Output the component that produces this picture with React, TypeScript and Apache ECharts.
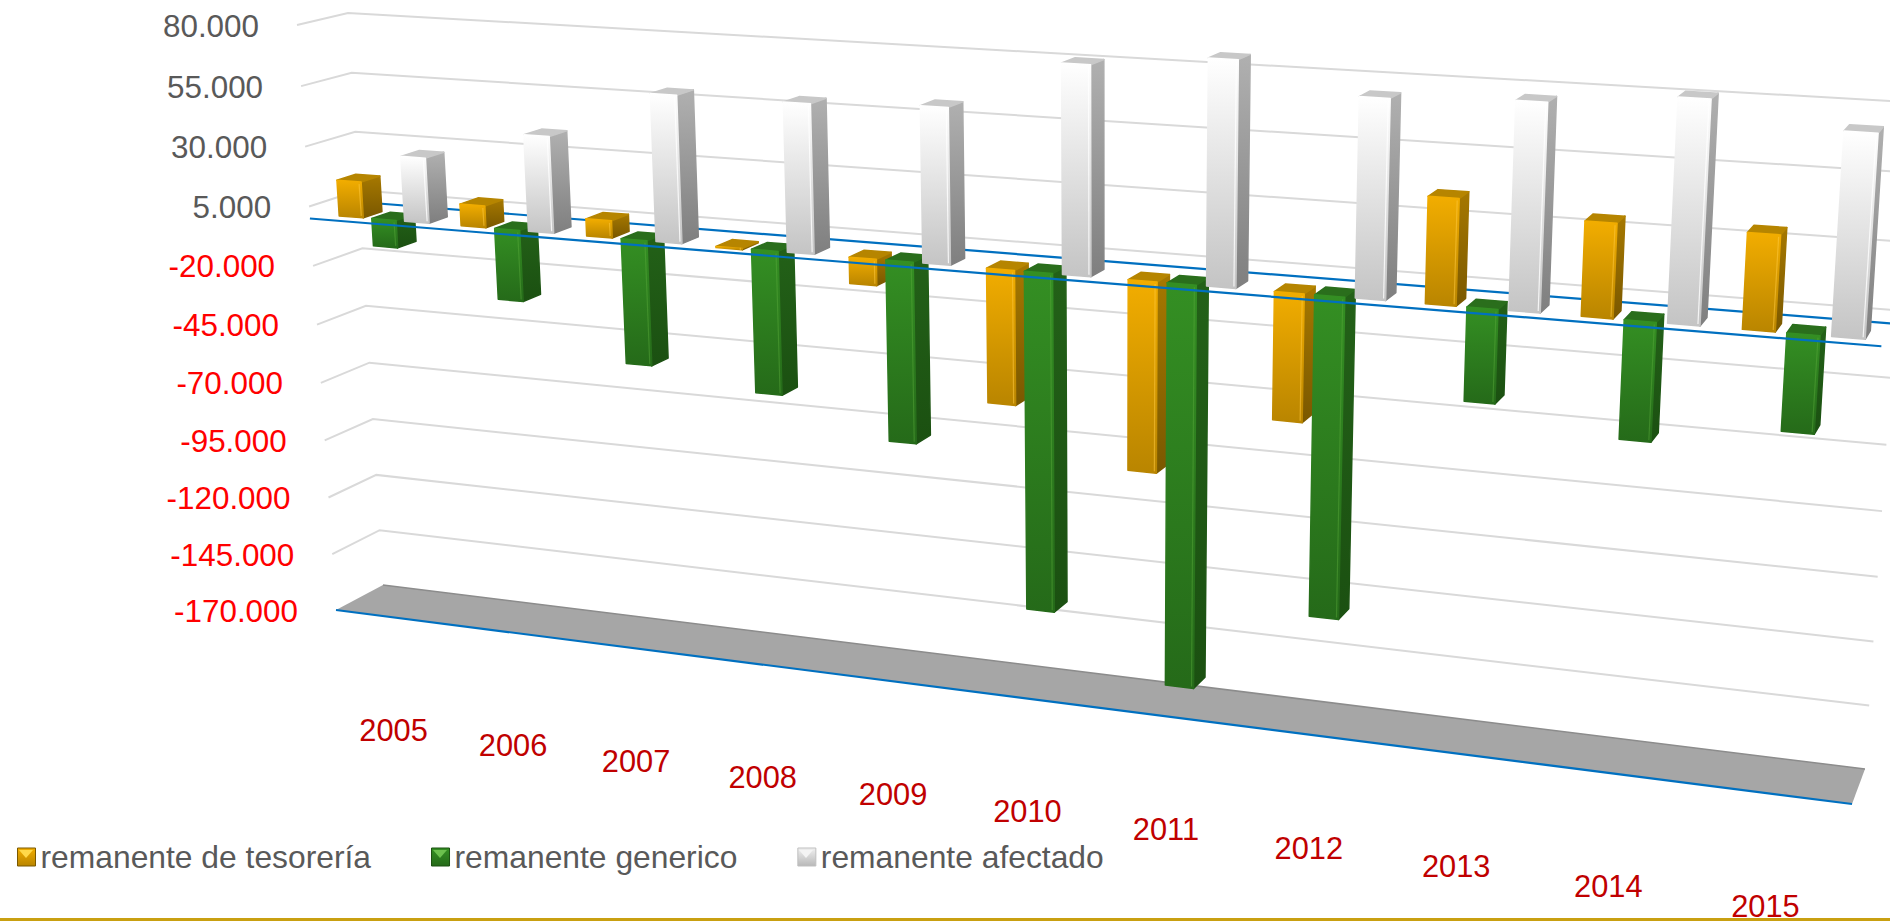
import React, { useEffect, useRef } from "react";
import * as echarts from "echarts";

const categories = ["2005", "2006", "2007", "2008", "2009", "2010", "2011", "2012", "2013", "2014", "2015"];
const tesoreria = [15000, 9000, 7000, -500, -10500, -53500, -75000, -49500, 40000, 35000, 35000];
const generico = [-11500, -29500, -51500, -58500, -73000, -136000, -160500, -125500, -35500, -44500, -36000];
const afectado = [27000, 39500, 59500, 59500, 61500, 81000, 86000, 75000, 77000, 81500, 73000];
const tickValues = [80000, 55000, 30000, 5000, -20000, -45000, -70000, -95000, -120000, -145000, -170000];
const seriesNames = ["remanente de tesorería", "remanente generico", "remanente afectado"];

type P = [number, number];
const FONT = '"Liberation Sans", Arial, sans-serif';
const FS = 31.4;

function quad(p00: P, p10: P, p11: P, p01: P) {
  const [x0, y0] = p00, [x1, y1] = p10, [x2, y2] = p11, [x3, y3] = p01;
  const dx1 = x1 - x2, dx2 = x3 - x2, sx = x0 - x1 + x2 - x3;
  const dy1 = y1 - y2, dy2 = y3 - y2, sy = y0 - y1 + y2 - y3;
  const den = dx1 * dy2 - dx2 * dy1;
  const g = (sx * dy2 - dx2 * sy) / den, h = (dx1 * sy - sx * dy1) / den;
  const a = x1 - x0 + g * x1, b = x3 - x0 + h * x3, d = y1 - y0 + g * y1, e = y3 - y0 + h * y3;
  return (u: number, w: number): P => {
    const q = g * u + h * w + 1;
    return [(a * u + b * w + x0) / q, (d * u + e * w + y0) / q];
  };
}
// plane corners: (u=0,top) (u=1,top) (u=1,floor) (u=0,floor)
const frontPlane = quad([297, 25], [1896, 118], [1852, 804], [336, 610]);
const backPlane = quad([348, 13], [1909, 102], [1865, 769], [383, 585]);
const project = (u: number, w: number, d: number): P => {
  const f = frontPlane(u, w), b = backPlane(u, w);
  return [f[0] + (b[0] - f[0]) * d, f[1] + (b[1] - f[1]) * d];
};

const D_FRONT = 0.24, D_BACK = 0.62;
const SLOT = 0.27, BAR_W = 0.2, GROUP_START = 0.145;

const palette = [
  { front: ["#F2AD00", "#B98500"], side: ["#A67800", "#7A5800"], top: "#B68500", hi: "rgba(255,200,60,0.55)", tri: "#FFD94A" },
  { front: ["#348F23", "#256A19"], side: ["#236118", "#1B5011"], top: "#2A6E1C", hi: "rgba(90,170,60,0.45)", tri: "#6CC04E" },
  { front: ["#FFFFFF", "#C4C4C4"], side: ["#B0B0B0", "#7F7F7F"], top: "#C8C8C8", hi: "rgba(255,255,255,0.8)", tri: "#F4F4F4" },
];

const toUW = (params: any, pt: number[]) => {
  const cs = params.coordSys;
  return [(pt[0] - cs.x) / cs.width, (pt[1] - cs.y) / cs.height];
};

const vGrad = (c: string[]) => new echarts.graphic.LinearGradient(0, 0, 0, 1, [
  { offset: 0, color: c[0] },
  { offset: 1, color: c[1] },
]);

const barRenderer = (j: number) => (params: any, api: any) => {
  const i = api.value(0), v = api.value(1);
  const band = api.size([1, 0])[0] / params.coordSys.width;
  const [, wv] = toUW(params, api.coord([i, v]));
  const [uc, w0] = toUW(params, api.coord([i, 0]));
  const u0 = uc - band / 2 + band * (GROUP_START + j * SLOT);
  const u1 = u0 + band * BAR_W;
  const wt = Math.min(wv, w0), wb = Math.max(wv, w0);
  const c = palette[j];
  const a = project(u0, wt, D_FRONT), b = project(u1, wt, D_FRONT), e = project(u1, wb, D_FRONT), f = project(u0, wb, D_FRONT);
  const b2 = project(u1, wt, D_BACK), e2 = project(u1, wb, D_BACK), a2 = project(u0, wt, D_BACK);
  const round = { lineJoin: "round", lineWidth: 1.5 };
  return {
    type: "group",
    children: [
      { type: "polygon", shape: { points: [b, b2, e2, e] }, style: { fill: vGrad(c.side), stroke: vGrad(c.side), ...round } },
      { type: "polygon", shape: { points: [a, a2, b2, b] }, style: { fill: c.top, stroke: c.top, ...round } },
      { type: "polygon", shape: { points: [a, b, e, f] }, style: { fill: vGrad(c.front), stroke: vGrad(c.front), ...round } },
      { type: "line", shape: { x1: b[0] - 2, y1: b[1] + 2, x2: e[0] - 2, y2: e[1] - 2 }, style: { stroke: c.hi, lineWidth: 1.2 } },
    ],
  };
};

const gridRenderer = (params: any, api: any) => {
  const [, w] = toUW(params, api.coord([0, api.value(1)]));
  return {
    type: "polyline",
    shape: { points: [project(0, w, 0), project(0, w, 1), project(1, w, 1)] },
    style: { fill: "none", stroke: "#D9D9D9", lineWidth: 2 },
  };
};

const floorRenderer = (params: any, api: any) => {
  const [, w] = toUW(params, api.coord([0, api.value(1)]));
  const a = project(0, w, 0), b = project(1, w, 0), c = project(1, w, 1), d = project(0, w, 1);
  return {
    type: "group",
    children: [
      { type: "polygon", shape: { points: [a, b, c, d] }, style: { fill: "#A6A6A6" } },
      { type: "line", shape: { x1: d[0], y1: d[1], x2: c[0], y2: c[1] }, style: { stroke: "#8C8C8C", lineWidth: 1.5 } },
      { type: "line", shape: { x1: a[0], y1: a[1], x2: b[0], y2: b[1] }, style: { stroke: "#0070C0", lineWidth: 2.2 } },
    ],
  };
};

const zeroRenderer = (d: number) => (params: any, api: any) => {
  const [, w] = toUW(params, api.coord([0, api.value(1)]));
  const a = project(0, w, d), b = project(1, w, d);
  return {
    type: "line",
    shape: { x1: a[0], y1: a[1], x2: b[0], y2: b[1] },
    style: { stroke: "#0070C0", lineWidth: 2.2 },
  };
};

const tickFmt = (v: number) => {
  const s = Math.abs(v).toString().replace(/\B(?=(\d{3})+(?!\d))/g, ".");
  return (v < 0 ? "-" : "") + s;
};

const tickRenderer = (params: any, api: any) => {
  const v = api.value(1);
  const [, w] = toUW(params, api.coord([0, v]));
  const p = project(0, w, 0);
  return {
    type: "text",
    x: p[0] - 38,
    y: p[1] + 1,
    style: {
      text: tickFmt(v),
      fill: v < 0 ? "#FF0000" : "#595959",
      fontSize: FS,
      fontFamily: FONT,
      align: "right",
      verticalAlign: "middle",
    },
  };
};

const yearRenderer = (params: any, api: any) => {
  const i = api.value(0);
  const [u] = toUW(params, api.coord([i, 0]));
  const [, w] = toUW(params, api.coord([i, -170000]));
  const p = project(u, w, 0);
  return {
    type: "text",
    x: p[0] - 1 - 5 * u,
    y: p[1] + 113,
    style: {
      text: categories[i],
      fill: "#C00000",
      fontSize: 30.8,
      fontFamily: FONT,
      align: "center",
      verticalAlign: "middle",
    },
  };
};

const custom = (renderItem: any, data: any[], z: number, name?: string) => ({
  type: "custom",
  name,
  coordinateSystem: "cartesian2d",
  encode: { x: 0, y: 1 },
  renderItem,
  data,
  z,
  silent: true,
  clip: false,
});

const legendTriangle = (x: number, light: string) => ({
  type: "polygon",
  z: 100,
  shape: { points: [[x + 2, 850], [x + 16, 850], [x + 9, 858]] },
  style: { fill: light },
});

export default function App() {
  const ref = useRef<HTMLDivElement>(null);
  useEffect(() => {
    const chart = echarts.init(ref.current!, undefined, { renderer: "svg" });
    const seriesValues = [tesoreria, generico, afectado];
    chart.setOption({
      animation: false,
      backgroundColor: "#FFFFFF",
      grid: { left: 0, right: 0, top: 0, bottom: 0, containLabel: false },
      xAxis: { type: "category", data: categories, show: false },
      yAxis: { type: "value", min: -170000, max: 80000, show: false },
      legend: {
        left: 12,
        top: 836,
        itemWidth: 18,
        itemHeight: 18,
        itemGap: 60,
        icon: "rect",
        textStyle: { color: "#595959", fontSize: 31.8, fontFamily: FONT },
        data: seriesNames.map((name, j) => ({
          name,
          itemStyle: {
            color: vGrad(j === 2 ? ["#F0F0F0", "#B8B8B8"] : palette[j].front),
            borderColor: j === 0 ? "#7A5800" : j === 1 ? "#1B5011" : "#BFBFBF",
            borderWidth: 1,
          },
        })),
      },
      graphic: [
        { type: "line", z: 100, shape: { x1: 0, y1: 919.5, x2: 1890, y2: 919.5 }, style: { stroke: "#C9A011", lineWidth: 3 } },
        legendTriangle(17, palette[0].tri),
        legendTriangle(431, palette[1].tri),
        legendTriangle(797, palette[2].tri),
      ],
      series: [
        custom(gridRenderer, tickValues.filter((v) => v > -170000).map((v) => [0, v]), 1),
        custom(floorRenderer, [[0, -170000]], 2),
        custom(zeroRenderer(1), [[0, 0]], 3),
        ...seriesValues.map((vals, j) =>
          custom(barRenderer(j), vals.map((v, i) => [i, v]), 4 + (j === 2 ? 2 : 0), seriesNames[j])
        ),
        custom(zeroRenderer(0), [[0, 0]], 5),
        custom(tickRenderer, tickValues.map((v) => [0, v]), 7),
        custom(yearRenderer, categories.map((_, i) => [i, 0]), 7),
      ],
    });
    return () => chart.dispose();
  }, []);
  return <div ref={ref} style={{ position: "absolute", left: 0, top: 0, width: 1890, height: 921 }} />;
}
